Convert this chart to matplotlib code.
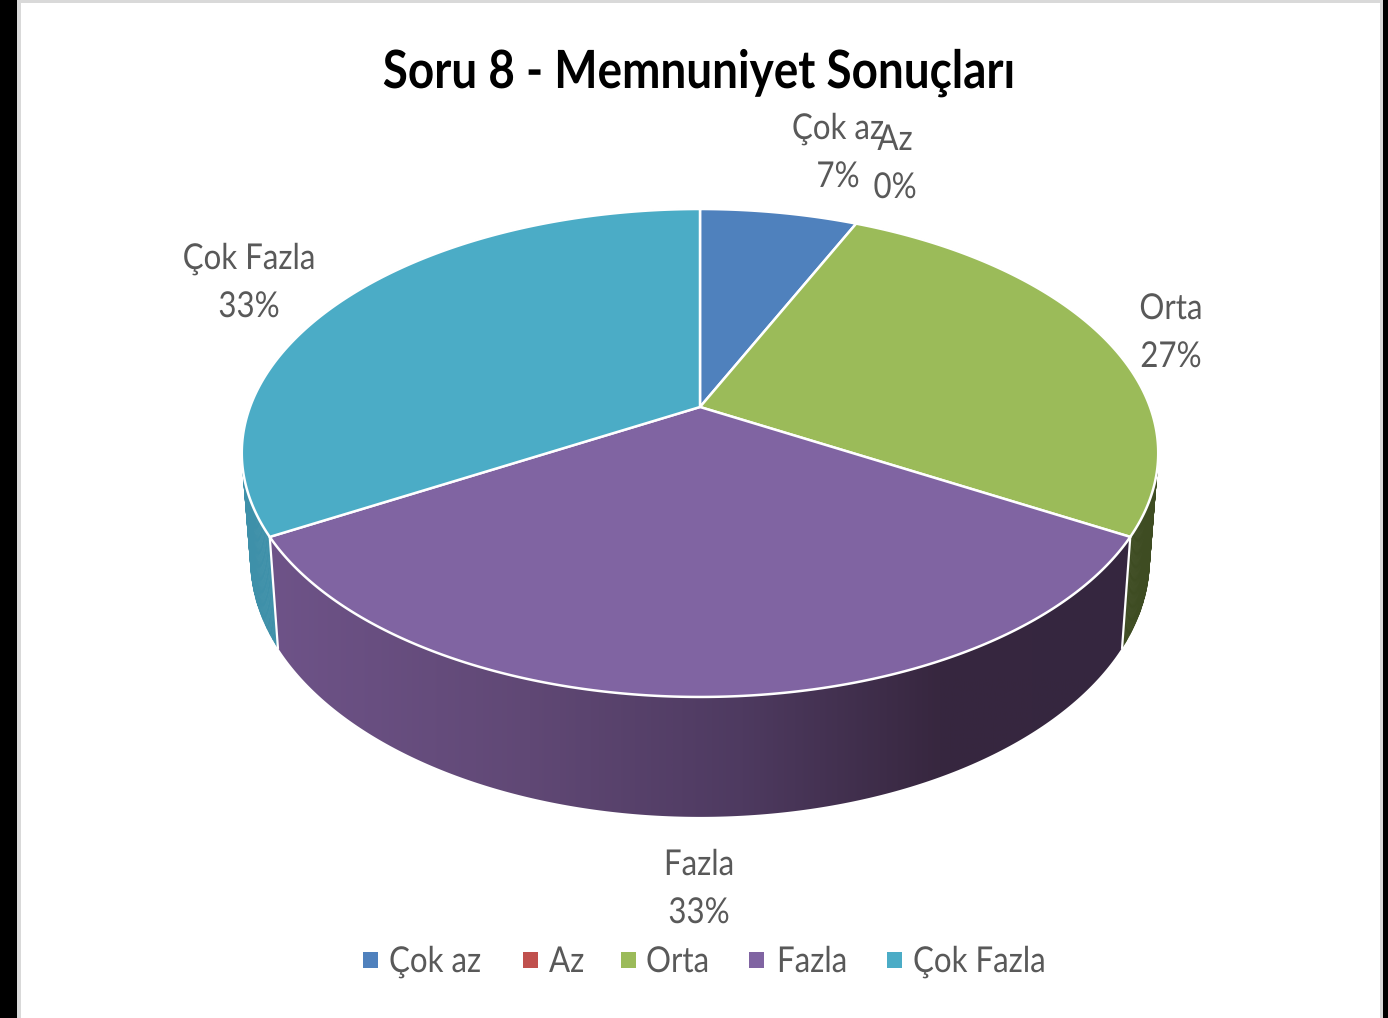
import numpy as np
import matplotlib
matplotlib.use('Agg')
import matplotlib.pyplot as plt
from matplotlib.collections import PolyCollection
from matplotlib.colors import LinearSegmentedColormap
from matplotlib.patches import Polygon, Rectangle
from matplotlib.patheffects import AbstractPathEffect
from matplotlib.transforms import Affine2D

categories = ['Çok az', 'Az', 'Orta', 'Fazla', 'Çok Fazla']
counts = [1, 0, 4, 5, 5]
title = 'Soru 8 - Memnuniyet Sonuçları'

colors = ['#4f81bd', '#c0504d', '#9bbb59', '#8064a2', '#4bacc6']
wall_colors = {'Orta': '#3e4c22', 'Çok Fazla': '#3e90a9'}
text_color = '#595959'

# label centre x, name baseline y
label_pos = {'Çok az': (838, 139), 'Az': (895, 150), 'Orta': (1171, 319),
             'Fazla': (699, 875), 'Çok Fazla': (249, 269)}
legend_marker_x = [363, 523, 621, 749, 887]
legend_text_x = [389, 549, 646, 777, 913]

# pie geometry in pixels, perspective circle
cx, cy = 700, 407
A, B, k = 450, 235.3, 0.1885
wall_off, wall_sx, wall_sy = 103.7, 0.981, 1.056

fonts = ['Lato', 'DejaVu Sans']


class StretchY(AbstractPathEffect):
    # the reference text is squeezed sideways, so draw it taller about its baseline
    def __init__(self, sy):
        super().__init__()
        self.sy = sy

    def draw_path(self, renderer, gc, tpath, affine, rgbFace=None):
        renderer.draw_path(gc, tpath, Affine2D().scale(1, self.sy) + affine, rgbFace)


def top(t):
    d = 1 + k * np.cos(t)
    return cx + A * np.sin(t) / d, cy - B * np.cos(t) / d


def bottom(t):
    d = 1 + k * np.cos(t)
    return cx + wall_sx * A * np.sin(t) / d, cy + wall_off - wall_sy * B * np.cos(t) / d


def arc(func, t0, t1, n=200):
    x, y = func(np.linspace(t0, t1, n))
    return np.column_stack([x, y])


fig = plt.figure(figsize=(13.88, 10.18), dpi=100)
ax = fig.add_axes((0, 0, 1, 1))

# frame of the screenshot
ax.add_patch(Rectangle((0, 0), 1388, 1018, fc='white', ec='none', zorder=0))
ax.add_patch(Rectangle((17, 0), 1366, 3, fc='#d9d9d9', ec='none', zorder=1))
ax.add_patch(Rectangle((17, 0), 4, 1018, fc='#d9d9d9', ec='none', zorder=1))
ax.add_patch(Rectangle((1380, 0), 3, 1018, fc='#d9d9d9', ec='none', zorder=1))
ax.add_patch(Rectangle((0, 0), 17, 1018, fc='black', ec='none', zorder=1))
ax.add_patch(Rectangle((1383, 0), 5, 1018, fc='black', ec='none', zorder=1))

edges = np.cumsum([0] + counts) / sum(counts) * 2 * np.pi

# side walls
for i, name in enumerate(categories):
    t0, t1 = edges[i], edges[i + 1]
    if t1 <= t0:
        continue
    if name in wall_colors:
        a, b = arc(top, t0, t1), arc(bottom, t0, t1)
        quads = [[a[j], a[j + 1], b[j + 1], b[j]] for j in range(len(a) - 1)]
        ax.add_collection(PolyCollection(quads, facecolors=wall_colors[name],
                                         edgecolors=wall_colors[name], linewidths=0.5, zorder=2))
    if name == 'Fazla':
        poly = np.vstack([arc(top, t0, t1), arc(bottom, t1, t0)])
        clip = Polygon(poly, fc='none', ec='none', transform=ax.transData, zorder=3)
        ax.add_patch(clip)
        shade = LinearSegmentedColormap.from_list(
            'wall', [(0, '#6e5388'), (0.3, '#604875'), (0.55, '#4e3a60'),
                     (0.78, '#37273f'), (1, '#35263f')])
        im = ax.imshow(np.linspace(0, 1, 400)[None, :], extent=(270, 1130, 830, 530),
                       cmap=shade, aspect='auto', zorder=3)
        im.set_clip_path(clip)

        # white seams at the ends of the wall
        for t in (t0, t1):
            xt, yt = top(t)
            xb, yb = bottom(t)
            ax.plot([xt, xb], [yt, yb], color='white', lw=1.6, zorder=4)

# top faces
for i, name in enumerate(categories):
    t0, t1 = edges[i], edges[i + 1]
    if t1 <= t0:
        continue
    poly = np.vstack([[cx, cy], arc(top, t0, t1)])
    ax.add_patch(Polygon(poly, fc=colors[i], ec='white', lw=1.8, joinstyle='round', zorder=5))

stretch = [StretchY(1.14)]

# data labels
for name, v in zip(categories, counts):
    x, y = label_pos[name]
    pct = f'{round(100 * v / sum(counts))}%'
    ax.text(x, y, name, family=fonts, fontsize=22.5, color=text_color,
            ha='center', va='baseline', zorder=6, path_effects=stretch)
    ax.text(x, y + 48, pct, family=fonts, fontsize=22.5, color=text_color,
            ha='center', va='baseline', zorder=6, path_effects=stretch)

ax.text(699, 88, title, family=fonts, fontsize=33, fontweight='bold', color='black',
        ha='center', va='baseline', zorder=6, path_effects=[StretchY(1.15)])

# legend
for name, col, mx, tx in zip(categories, colors, legend_marker_x, legend_text_x):
    ax.add_patch(Rectangle((mx, 952), 15, 16, fc=col, ec='none', zorder=6))
    ax.text(tx, 972, name, family=fonts, fontsize=22.5, color=text_color,
            ha='left', va='baseline', zorder=6, path_effects=stretch)

ax.set_xlim(0, 1388)
ax.set_ylim(1018, 0)
ax.axis('off')

fig.savefig('out.png', dpi=100)
